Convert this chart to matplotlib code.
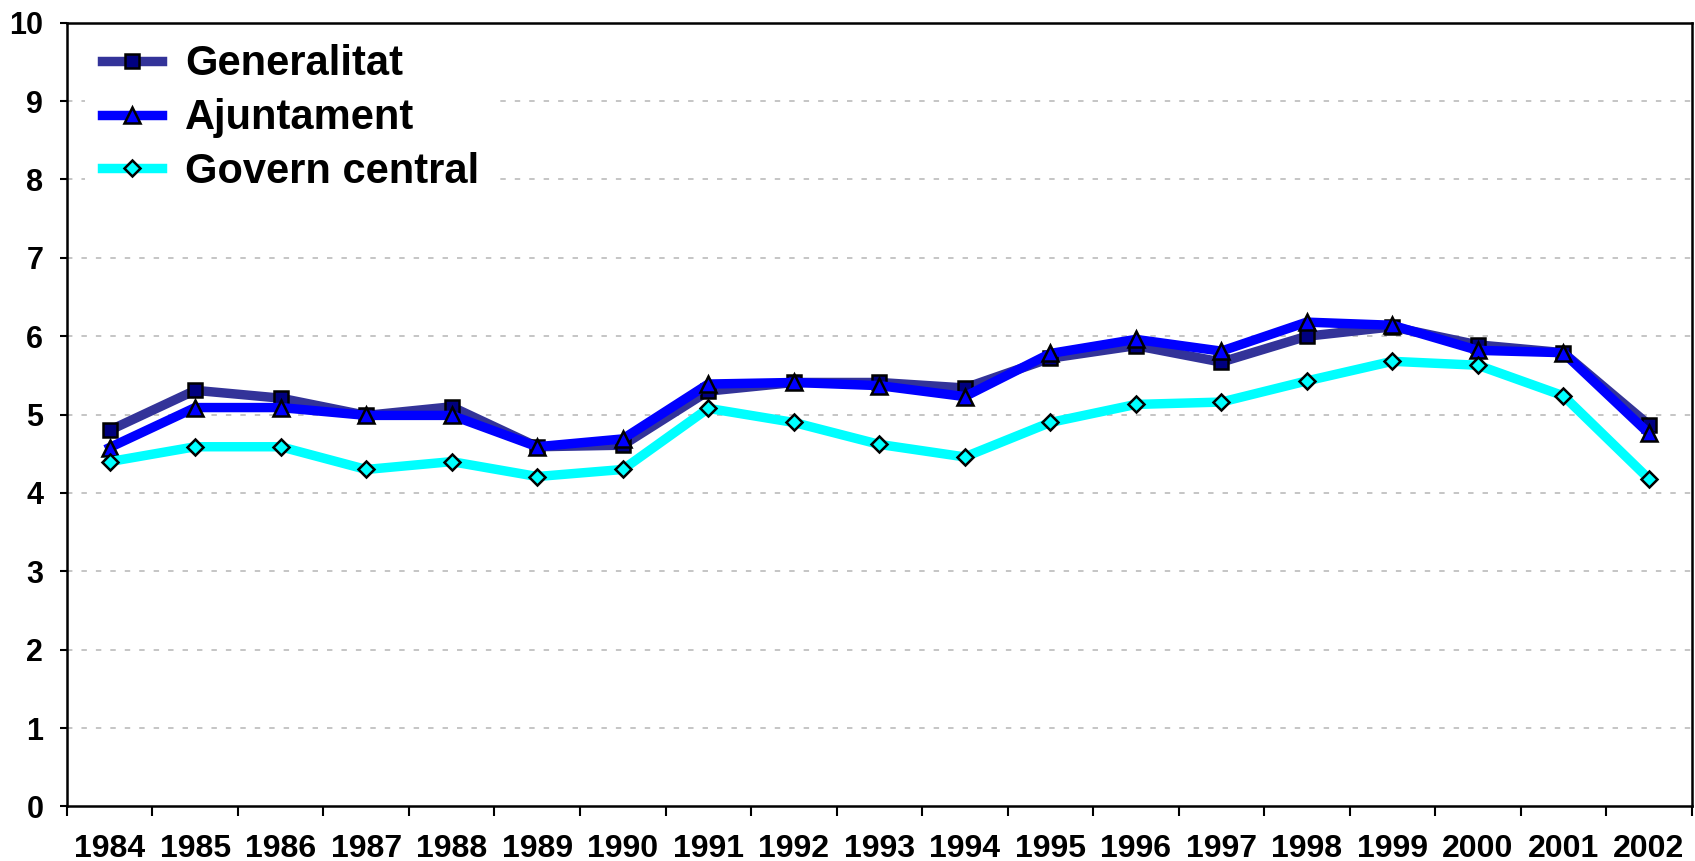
import matplotlib

matplotlib.use("Agg")

import matplotlib.pyplot as plt
import numpy as np

plt.rcParams["font.family"] = ["Liberation Sans", "DejaVu Sans"]
plt.rcParams["font.weight"] = "bold"

anys = [str(a) for a in range(1984, 2003)]
generalitat = [4.80, 5.31, 5.21, 4.99, 5.10, 4.59, 4.61, 5.30, 5.41, 5.41, 5.34,
               5.72, 5.88, 5.67, 6.00, 6.12, 5.89, 5.79, 4.87]
ajuntament = [4.58, 5.09, 5.09, 4.99, 4.99, 4.59, 4.69, 5.39, 5.41, 5.37, 5.23,
              5.78, 5.96, 5.81, 6.18, 6.14, 5.82, 5.79, 4.76]
govern_central = [4.40, 4.59, 4.59, 4.30, 4.40, 4.21, 4.30, 5.08, 4.90, 4.62, 4.46,
                  4.90, 5.13, 5.16, 5.43, 5.68, 5.63, 5.24, 4.18]

series = [
    ("Generalitat", generalitat, "#333399", "s", "#000080", 10.5),
    ("Ajuntament", ajuntament, "#0000FF", "^", "#0000FF", 12),
    ("Govern central", govern_central, "#00FFFF", "D", "#00FFFF", 8.5),
]

fig = plt.figure(figsize=(16.95, 8.61), dpi=100)
ax = fig.add_axes([0.0395, 0.0633, 0.9585, 0.9103])

x = np.arange(len(anys))
for nom, valors, color, marca, farciment, mida in series:
    ax.plot(x, valors, color=color, linewidth=6.8, marker=marca, markersize=mida,
            markerfacecolor=farciment, markeredgecolor="black", markeredgewidth=1.8,
            label=nom, zorder=3)

ax.set_xlim(-0.5, len(anys) - 0.5)
ax.set_ylim(0, 10)
ax.set_yticks(range(0, 11))
ax.set_xticks(x)
ax.set_xticklabels(anys)
ax.set_xticks(np.arange(-0.5, len(anys)), minor=True)
ax.tick_params(axis="x", which="major", length=0, pad=20, labelsize=23)
ax.tick_params(axis="x", which="minor", length=7, width=1.5, direction="out")
ax.tick_params(axis="y", length=5, width=1.5, direction="out", pad=12, labelsize=22)

for v in range(1, 10):
    ax.axhline(v, color="#c0c0c0", linewidth=1.3, linestyle=(0, (3, 5)), zorder=1)

for s in ax.spines.values():
    s.set_linewidth(1.8)

leg = ax.legend(loc="upper left", bbox_to_anchor=(0.008, 1.0), frameon=True,
                fontsize=30, handlelength=1.45, handletextpad=0.55, labelspacing=0.33,
                borderpad=0.4, borderaxespad=0.12)
leg.get_frame().set_facecolor("white")
leg.get_frame().set_edgecolor("none")
leg.get_frame().set_alpha(1)
leg.set_zorder(2)

fig.savefig("out.png", dpi=100)
